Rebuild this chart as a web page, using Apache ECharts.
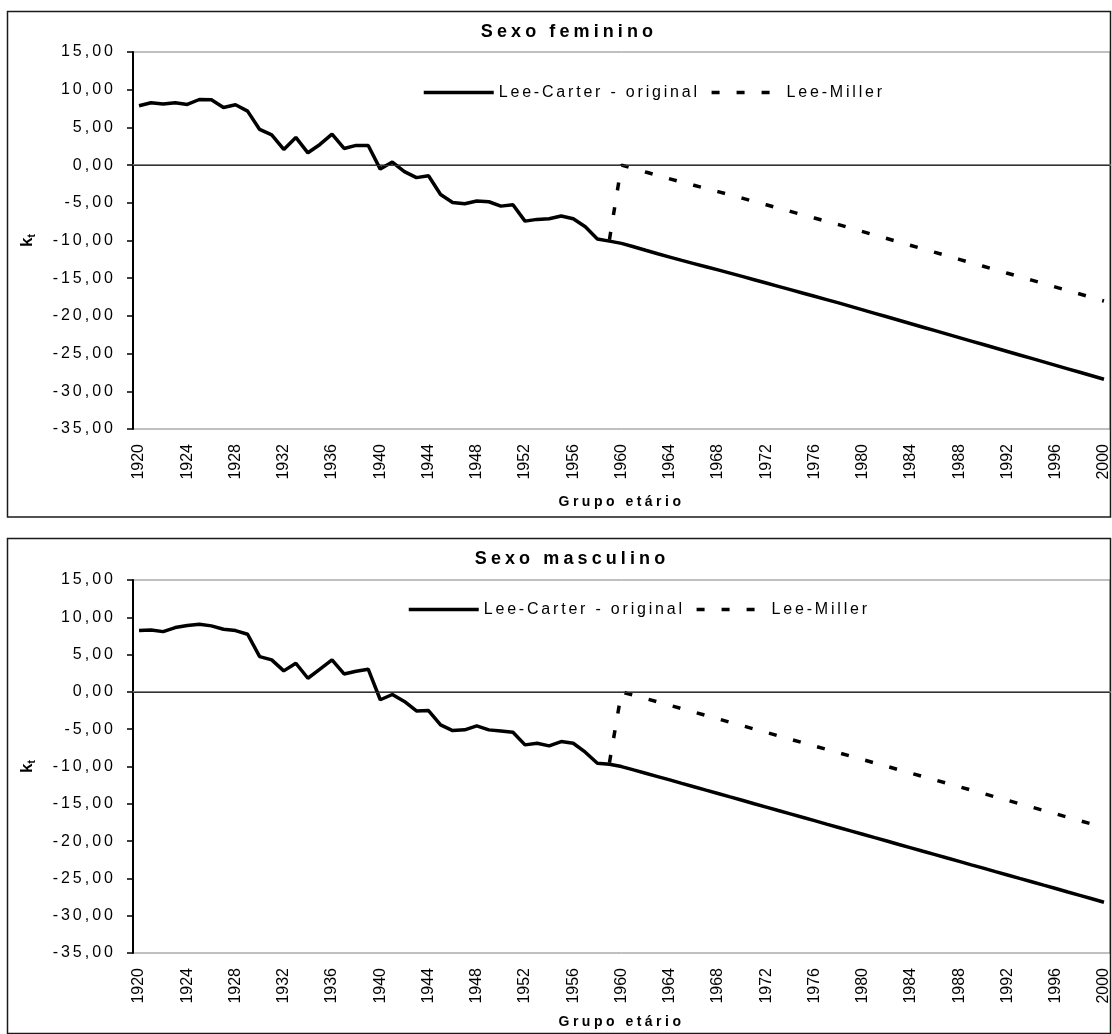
<!DOCTYPE html>
<html>
<head>
<meta charset="utf-8">
<script src="https://cdn.jsdelivr.net/npm/echarts@6/dist/echarts.min.js"></script>
<style>
html,body{margin:0;padding:0;background:#fff;}
#chart{width:1112px;height:1034px;}
</style>
</head>
<body>
<div id="chart"></div>
<script>
// Excel-like letter spacing: a marker family "lsNNx" in the font string sets ctx.letterSpacing = NN/10 px
(function () {
  var proto = window.CanvasRenderingContext2D && CanvasRenderingContext2D.prototype;
  if (!proto) return;
  var desc = Object.getOwnPropertyDescriptor(proto, 'font');
  if (!desc || !('letterSpacing' in proto)) return;
  Object.defineProperty(proto, 'font', {
    configurable: true,
    get: function () { return desc.get.call(this); },
    set: function (v) {
      desc.set.call(this, v);
      var m = /ls(\d+)x/.exec(v);
      this.letterSpacing = m ? (parseInt(m[1], 10) / 10) + 'px' : '0px';
    }
  });
})();

const years = ['1920','1921','1922','1923','1924','1925','1926','1927','1928','1929',
  '1930','1931','1932','1933','1934','1935','1936','1937','1938','1939',
  '1940','1941','1942','1943','1944','1945','1946','1947','1948','1949',
  '1950','1951','1952','1953','1954','1955','1956','1957','1958','1959',
  '1960','1961','1962','1963','1964','1965','1966','1967','1968','1969',
  '1970','1971','1972','1973','1974','1975','1976','1977','1978','1979',
  '1980','1981','1982','1983','1984','1985','1986','1987','1988','1989',
  '1990','1991','1992','1993','1994','1995','1996','1997','1998','1999','2000'];

const yTicks = [-35, -30, -25, -20, -15, -10, -5, 0, 5, 10, 15];

const titles = ['Sexo feminino', 'Sexo masculino'];
const seriesNames = ['Lee-Carter - original', 'Lee-Miller'];
const xAxisName = 'Grupo etário';

// Sexo feminino — Lee-Carter original (1920–2000)
const femLC = [7.87, 8.26, 8.09, 8.26, 8.05, 8.70, 8.66, 7.65, 8.00, 7.16,
  4.73, 4.02, 2.08, 3.67, 1.63, 2.74, 4.11, 2.21, 2.61, 2.61,
  -0.53, 0.40, -0.86, -1.66, -1.42, -3.89, -4.95, -5.13, -4.77, -4.86,
  -5.44, -5.26, -7.43, -7.20, -7.12, -6.76, -7.12, -8.18, -9.81, -10.08,
  -10.38, -10.83, -11.30, -11.76, -12.20, -12.64, -13.06, -13.48, -13.90, -14.33,
  -14.76, -15.20, -15.64, -16.08, -16.52, -16.96, -17.40, -17.84, -18.28, -18.74,
  -19.20, -19.66, -20.12, -20.58, -21.04, -21.50, -21.96, -22.42, -22.88, -23.34,
  -23.80, -24.26, -24.72, -25.18, -25.64, -26.10, -26.56, -27.02, -27.48, -27.94, -28.40];

// Sexo feminino — Lee-Miller (1959–2000)
const femLM = [-9.90,
  0.00, -0.45, -0.92, -1.38, -1.82, -2.26, -2.68, -3.10, -3.52, -3.95,
  -4.38, -4.82, -5.26, -5.70, -6.14, -6.58, -7.02, -7.46, -7.90, -8.36,
  -8.82, -9.28, -9.74, -10.20, -10.66, -11.12, -11.58, -12.04, -12.50, -12.96,
  -13.42, -13.88, -14.34, -14.80, -15.26, -15.72, -16.18, -16.64, -17.10, -17.56, -18.02];

// Sexo masculino — Lee-Carter original (1920–2000)
const masLC = [8.22, 8.30, 8.08, 8.62, 8.89, 9.07, 8.85, 8.40, 8.22, 7.73,
  4.73, 4.29, 2.82, 3.84, 1.83, 3.04, 4.29, 2.41, 2.77, 3.04,
  -1.05, -0.35, -1.28, -2.55, -2.50, -4.42, -5.18, -5.09, -4.56, -5.09,
  -5.23, -5.40, -7.10, -6.88, -7.24, -6.66, -6.88, -8.08, -9.56, -9.69,
  -10.01, -10.46, -10.90, -11.35, -11.80, -12.26, -12.71, -13.17, -13.62, -14.08,
  -14.53, -14.99, -15.44, -15.90, -16.35, -16.81, -17.26, -17.72, -18.17, -18.63,
  -19.08, -19.54, -19.99, -20.45, -20.90, -21.36, -21.81, -22.27, -22.72, -23.18,
  -23.63, -24.09, -24.54, -25.00, -25.45, -25.91, -26.36, -26.82, -27.27, -27.73, -28.19];

// Sexo masculino — Lee-Miller (1959–2000)
const masLM = [-9.50,
  0.00, -0.45, -0.89, -1.34, -1.79, -2.25, -2.70, -3.16, -3.61, -4.07,
  -4.52, -4.98, -5.43, -5.89, -6.34, -6.80, -7.25, -7.71, -8.16, -8.62,
  -9.07, -9.53, -9.98, -10.44, -10.89, -11.35, -11.80, -12.26, -12.71, -13.17,
  -13.62, -14.08, -14.53, -14.99, -15.44, -15.90, -16.35, -16.81, -17.26, -17.72, -18.18];

const lmStart = years.indexOf('1959');

const FY = "'Liberation Sans', ls30x";
const FL = "'Liberation Sans', ls28x";
const FT = "'Liberation Sans', ls41x";
const FN = "'Liberation Sans', ls35x";
const FX = "'Liberation Sans'";

const chart = echarts.init(document.getElementById('chart'), null, {renderer: 'canvas'});

const grids = [
  {left: 133, top: 52, width: 977, height: 377},
  {left: 133, top: 580, width: 977, height: 373}
];

function xAxis(i, gap) {
  return {
    gridIndex: i, type: 'category', data: years, boundaryGap: true,
    axisLine: {show: true, lineStyle: {color: '#808080', width: 2}},
    axisTick: {show: false},
    splitLine: {show: false},
    axisLabel: {interval: 3, rotate: 90, fontSize: 16, fontFamily: FX, color: '#000', margin: 15},
    name: xAxisName, nameLocation: 'middle', nameGap: gap,
    nameTextStyle: {fontSize: 14, fontWeight: 'bold', fontFamily: FN, color: '#000'}
  };
}
function yAxis(i) {
  return {
    gridIndex: i, type: 'value', min: yTicks[0], max: yTicks[yTicks.length - 1], interval: 5,
    axisLine: {show: true, lineStyle: {color: '#000', width: 2}},
    axisTick: {show: true, length: 6, lineStyle: {color: '#000', width: 1.5}},
    splitLine: {show: false},
    axisLabel: {
      fontSize: 16, fontFamily: FY, color: '#000', margin: 17,
      formatter: v => v.toFixed(2).replace('.', ',')
    },
    name: '{k|k}{t|t}', nameLocation: 'middle', nameRotate: 90, nameGap: 96,
    nameTextStyle: {
      rich: {
        k: {fontSize: 17, fontWeight: 'bold', fontFamily: FX, color: '#000', lineHeight: 20},
        t: {fontSize: 10, fontWeight: 'bold', fontFamily: FX, color: '#000', lineHeight: 10, verticalAlign: 'bottom'}
      }
    }
  };
}
const zeroLine = {
  silent: true, symbol: ['none', 'none'], animation: false,
  label: {show: false},
  lineStyle: {color: '#333', width: 1, type: 'solid'},
  emphasis: {disabled: true},
  data: [{yAxis: 0}]
};
function lcSeries(i, data) {
  return {
    name: seriesNames[0], type: 'line', xAxisIndex: i, yAxisIndex: i,
    data: data, symbol: 'none', showSymbol: false,
    lineStyle: {color: '#000', width: 3.5},
    itemStyle: {color: '#000'},
    emphasis: {disabled: true},
    markLine: zeroLine, z: 3
  };
}
function lmSeries(i, data) {
  return {
    name: seriesNames[1], type: 'line', xAxisIndex: i, yAxisIndex: i,
    data: data.map((v, k) => [years[lmStart + k], v]),
    symbol: 'none', showSymbol: false,
    lineStyle: {color: '#000', width: 3.5, type: [8, 17]},
    itemStyle: {color: '#000'},
    emphasis: {disabled: true}, z: 3
  };
}
function legend(top, left) {
  return {
    data: seriesNames, top: top, left: left, padding: 0,
    itemWidth: 70, itemHeight: 14, itemGap: 10,
    itemStyle: {opacity: 0},
    lineStyle: {width: 3.5},
    textStyle: {fontSize: 16, fontFamily: FL, color: '#000'},
    selectedMode: false
  };
}
function title(text, top, left) {
  return {
    text: text, top: top, left: left, textAlign: 'center', padding: 0,
    textStyle: {fontSize: 18, fontWeight: 'bold', fontFamily: FT, color: '#000'}
  };
}

chart.setOption({
  animation: false,
  backgroundColor: '#fff',
  title: [title(titles[0], 21, 569), title(titles[1], 548, 572)],
  legend: [legend(83, 422), legend(600, 407)],
  grid: grids.map(g => Object.assign({show: true, borderColor: '#808080', borderWidth: 1, backgroundColor: 'transparent'}, g)),
  xAxis: [xAxis(0, 64), xAxis(1, 60)],
  yAxis: [yAxis(0), yAxis(1)],
  graphic: [
    {type: 'rect', silent: true, shape: {x: 7.5, y: 11.5, width: 1103, height: 505.5}, style: {fill: 'none', stroke: '#1a1a1a', lineWidth: 1.5}},
    {type: 'rect', silent: true, shape: {x: 7.5, y: 538.5, width: 1103, height: 495}, style: {fill: 'none', stroke: '#1a1a1a', lineWidth: 1.5}}
  ],
  series: [lcSeries(0, femLC), lmSeries(0, femLM), lcSeries(1, masLC), lmSeries(1, masLM)]
});
</script>
</body>
</html>
